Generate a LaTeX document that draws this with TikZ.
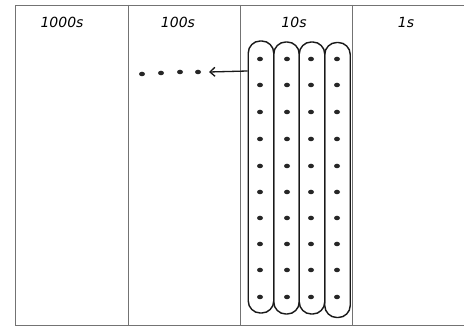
\documentclass[tikz,border=0pt]{standalone}
\usepackage{fontspec}
\setmainfont{DejaVu Sans}
\usetikzlibrary{arrows.meta,shapes.geometric}
\begin{document}
\begin{tikzpicture}[x=1pt,y=-1pt,
  grid/.style={draw=black!55,line width=0.8pt},
  head/.style={font=\fontsize{14}{14}\selectfont\itshape,inner sep=0pt},
  loopbox/.style={draw=black!90,line width=1.4pt,rounded corners=12pt,minimum width=25.5pt,minimum height=272pt,inner sep=0pt},
  dot/.style={fill=black!85,ellipse,minimum width=6pt,minimum height=4.5pt,inner sep=0pt},
  pointer/.style={draw=black!90,line width=1.3pt,-{Straight Barb[length=5pt,width=9pt]}}]
\useasboundingbox (0,0) rectangle (464,326);
\fill[white] (0,0) rectangle (464,326);
% table
\draw[grid] (464,5) -- (15,5) -- (15,325) -- (464,325);
\draw[grid] (128,5) -- (128,325);
\draw[grid] (240,5) -- (240,325);
\draw[grid] (352,5) -- (352,325);
% headers
\node[head] (h1) at (62,22) {1000s};
\node[head] (h2) at (178,22) {100s};
\node[head] (h3) at (294,22) {10s};
\node[head] (h4) at (406,22) {1s};
% loops
\node[loopbox] (l1) at (261,177) {};
\node[loopbox] (l2) at (286.5,178) {};
\node[loopbox] (l3) at (312,178) {};
\node[loopbox,minimum height=275pt] (l4) at (337.5,180) {};
% dots in loops
\foreach \c/\x in {1/260,2/287,3/311,4/337}{
  \foreach \r/\y in {1/59,2/85,3/112,4/139,5/166,6/192,7/218,8/244,9/270,10/297}{
    \node[dot] (t\c-\r) at (\x,\y) {};
  }
}
% dots in 100s
\node[dot] (d1) at (142,74) {};
\node[dot] (d2) at (161,73) {};
\node[dot] (d3) at (180,72) {};
\node[dot] (d4) at (198,72) {};
% arrow
\coordinate (as) at (l1.west |- 0,71);
\coordinate (ae) at (209,72);
\draw[pointer] (as) -- (ae);
\end{tikzpicture}
\end{document}
